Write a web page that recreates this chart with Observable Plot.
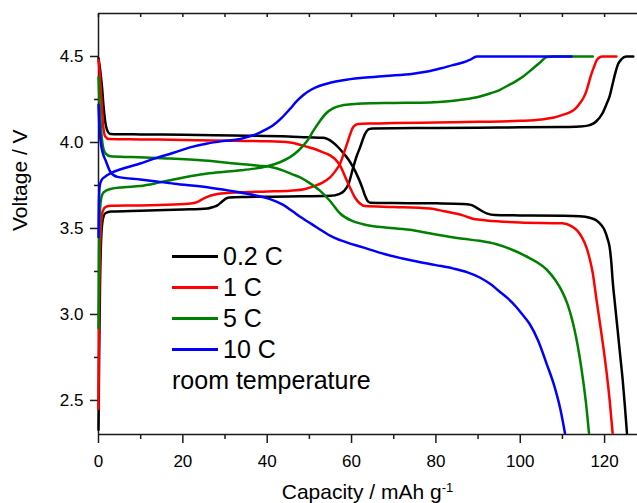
<!DOCTYPE html>
<html><head><meta charset="utf-8">
<script src="https://cdn.jsdelivr.net/npm/d3@7"></script>
<script src="https://cdn.jsdelivr.net/npm/@observablehq/plot@0.6"></script>
<style>
body{margin:0;background:#fff;}
#wrap{position:relative;width:637px;height:503px;font-family:"Liberation Sans",Arial,Helvetica,sans-serif;color:#000;overflow:hidden;}
#wrap svg{position:absolute;left:0;top:0;}
#legend{position:absolute;left:172px;top:241px;}
.row{display:flex;align-items:center;height:31px;font-size:25px;white-space:nowrap;}
.swatch{width:46px;height:3px;margin-right:5px;}
#xtitle{position:absolute;left:98px;width:539px;top:480px;text-align:center;font-size:21px;line-height:24px;white-space:nowrap;}
#xtitle sup{font-size:0.62em;line-height:0;vertical-align:0.55em;}
</style></head>
<body><div id="wrap"></div>
<script>
const rates = ["0.2 C", "1 C", "5 C", "10 C"];
const colors = ["#000000", "#ff0000", "#008000", "#0000ff"];
const note = "room temperature";

const xMajor = [0, 20, 40, 60, 80, 100, 120];
const xMinor = [10, 30, 50, 70, 90, 110];
const xTopTicks = [0, 10, 20, 30, 40, 50, 60, 70, 80, 90, 100, 110, 120];
const yMajor = [2.5, 3.0, 3.5, 4.0, 4.5];
const yMinor = [2.75, 3.25, 3.75, 4.25];
const xDomain = [0, 127.8];
const yDomain = [2.302, 4.75];

// 0.2 C
const charge02 = [[0,2.33],[0.15,2.75],[0.35,3.15],[0.6,3.42],[1.0,3.55],[1.7,3.59],[3,3.598],[10,3.603],[20,3.61],[25.8,3.616],[27.2,3.625],[28.2,3.634],[29,3.65],[29.6,3.663],[30.3,3.675],[31,3.68],[35,3.683],[45,3.686],[55,3.69],[57,3.70],[58.3,3.72],[59.3,3.76],[60.4,3.855],[61.2,3.92],[62,3.97],[63.2,4.05],[64.1,4.078],[65,4.082],[70,4.083],[80,4.084],[90,4.086],[100,4.088],[110,4.09],[114,4.093],[116,4.098],[117.3,4.11],[118.1,4.125],[119.5,4.17],[120.4,4.22],[121.2,4.27],[121.9,4.34],[122.5,4.4],[123.1,4.45],[123.7,4.475],[124.5,4.495],[125.3,4.5],[126.8,4.5]];
const discharge02 = [[0,4.49],[0.4,4.42],[0.8,4.33],[1.2,4.21],[1.6,4.12],[2.0,4.075],[2.8,4.05],[10,4.047],[20,4.045],[32,4.04],[45,4.035],[49.5,4.03],[53.3,4.027],[54.5,4.018],[55.6,4.0],[57,3.968],[58,3.94],[59.3,3.9],[60.4,3.855],[61.5,3.8],[62.5,3.74],[63.2,3.69],[63.8,3.66],[64.5,3.65],[70,3.648],[80,3.646],[86.4,3.643],[88.3,3.637],[89.7,3.62],[91,3.6],[92.2,3.586],[94,3.578],[100,3.576],[110,3.574],[114.1,3.571],[116.5,3.562],[118.1,3.547],[119.2,3.52],[120,3.49],[120.7,3.44],[121.2,3.39],[121.6,3.3],[121.9,3.2],[122.5,3.05],[123.1,2.907],[123.7,2.76],[124.3,2.616],[124.8,2.47],[125.3,2.31]];
// 1 C
const charge1 = [[0,2.45],[0.1,2.9],[0.3,3.3],[0.6,3.52],[1,3.6],[1.7,3.625],[3,3.632],[10,3.634],[18,3.64],[21.8,3.645],[23.5,3.655],[25,3.675],[26.5,3.69],[28.2,3.70],[33.6,3.71],[40,3.715],[45.4,3.72],[49,3.73],[51,3.745],[53,3.765],[54.9,3.797],[56.2,3.835],[57.3,3.878],[58.2,3.94],[58.9,3.99],[59.7,4.05],[60.4,4.09],[61.5,4.108],[65,4.111],[70,4.113],[80,4.116],[90,4.12],[100,4.126],[105,4.134],[108,4.145],[110,4.16],[111.7,4.175],[113,4.195],[114.1,4.227],[115,4.26],[115.7,4.30],[116.4,4.36],[116.9,4.40],[117.5,4.44],[118.1,4.477],[118.8,4.495],[119.5,4.5],[122.8,4.5]];
const discharge1 = [[0,4.48],[0.3,4.4],[0.7,4.25],[1.1,4.1],[1.6,4.035],[2.5,4.02],[10,4.018],[20,4.015],[32,4.01],[40,4.007],[45.4,4.0],[48,3.985],[50.9,3.965],[53,3.945],[54.9,3.925],[56.2,3.9],[57.3,3.865],[58.5,3.8],[59.6,3.74],[60.8,3.68],[62,3.645],[63.2,3.63],[70,3.625],[78.6,3.616],[82,3.6],[86.4,3.576],[89,3.555],[92,3.547],[100,3.535],[110,3.53],[112,3.515],[113.4,3.49],[114.6,3.45],[115.7,3.39],[116.5,3.32],[117.2,3.24],[118,3.1],[118.8,2.965],[119.7,2.81],[120.5,2.657],[121.2,2.5],[121.9,2.31]];
// 5 C
const charge5 = [[0,2.92],[0.1,3.3],[0.3,3.58],[0.6,3.67],[1.2,3.71],[2.8,3.73],[6,3.74],[9.9,3.747],[14,3.765],[17.8,3.785],[22,3.805],[25.8,3.82],[30,3.83],[33.6,3.838],[37,3.848],[40,3.862],[43,3.885],[45.4,3.915],[47.5,3.955],[49.5,4.01],[51,4.07],[52.5,4.125],[54,4.17],[55.6,4.198],[57.3,4.213],[60,4.222],[62.7,4.227],[70,4.23],[78.6,4.233],[83,4.24],[86.4,4.25],[90,4.265],[92.8,4.285],[95.1,4.305],[97,4.33],[99.2,4.36],[101,4.39],[103,4.43],[104.7,4.465],[106.3,4.497],[108,4.5],[117.2,4.5]];
const discharge5 = [[0,4.38],[0.3,4.2],[0.7,4.05],[1.2,3.96],[1.7,3.935],[2.8,3.92],[8,3.915],[16.3,3.907],[25,3.895],[33.6,3.875],[38,3.865],[41.4,3.855],[44,3.835],[46,3.815],[47.8,3.797],[50,3.765],[52.5,3.72],[54.9,3.66],[57.3,3.587],[60,3.545],[62.7,3.525],[68,3.505],[74.6,3.49],[80,3.465],[86.4,3.44],[90.4,3.428],[94.4,3.408],[98.2,3.375],[100.5,3.35],[102.2,3.328],[104.5,3.295],[106.3,3.26],[108.3,3.2],[110,3.13],[111.2,3.06],[112.4,2.96],[113.3,2.86],[114.1,2.75],[115,2.6],[115.7,2.46],[116.3,2.31]];
// 10 C
const charge10 = [[0,3.45],[0.1,3.65],[0.3,3.75],[0.7,3.78],[1.5,3.8],[2.8,3.82],[6,3.85],[9.9,3.878],[13,3.905],[17.8,3.94],[21.5,3.97],[25.8,3.994],[29.5,4.008],[33.6,4.02],[35.5,4.033],[37.6,4.05],[39.5,4.073],[41.4,4.10],[43.5,4.145],[45.4,4.195],[47,4.24],[48.5,4.275],[50.5,4.308],[52.5,4.33],[54.9,4.347],[58,4.362],[62.7,4.376],[68,4.387],[74.6,4.40],[78,4.413],[81,4.43],[84,4.45],[86.4,4.465],[88,4.48],[89.7,4.5],[112.2,4.5]];
const discharge10 = [[0,4.22],[0.2,4.1],[0.5,4.01],[1,3.94],[1.7,3.895],[2.8,3.83],[4.5,3.8],[9.9,3.785],[12.3,3.778],[18,3.76],[25.8,3.74],[31,3.72],[37.6,3.69],[41,3.668],[43.8,3.637],[46,3.6],[48,3.565],[51.8,3.506],[54.9,3.458],[57.3,3.432],[62.7,3.39],[68,3.35],[74.6,3.312],[80,3.287],[84,3.268],[87.5,3.245],[90.4,3.215],[93,3.175],[95,3.135],[97,3.095],[99,3.045],[100.5,3.0],[102.2,2.946],[104.2,2.85],[106.3,2.71],[108,2.59],[109.5,2.45],[110.6,2.31]];

const series = [
  {rate: rates[0], charge: charge02, discharge: discharge02},
  {rate: rates[1], charge: charge1, discharge: discharge1},
  {rate: rates[2], charge: charge5, discharge: discharge5},
  {rate: rates[3], charge: charge10, discharge: discharge10}
];
const rows = series.flatMap(s =>
  [["charge", s.charge], ["discharge", s.discharge]].flatMap(([phase, pts]) =>
    pts.map(([x, y]) => ({rate: s.rate, phase, x, y}))));

const axisColor = "#1a1a1a";
const chart = Plot.plot({
  width: 637, height: 478,
  marginLeft: 98, marginRight: 0, marginTop: 13, marginBottom: 44,
  x: {domain: xDomain},
  y: {domain: yDomain},
  color: {domain: rates, range: colors},
  style: {fontFamily: "'Liberation Sans', Arial, Helvetica, sans-serif", color: "#000", background: "transparent", overflow: "visible"},
  marks: [
    Plot.ruleX([xDomain[0]], {stroke: axisColor, strokeWidth: 1.5}),
    Plot.ruleY([yDomain[0]], {stroke: axisColor, strokeWidth: 1.5}),
    Plot.ruleY([yDomain[1]], {stroke: axisColor, strokeWidth: 1.5}),
    Plot.axisX(xMajor, {anchor: "bottom", tickSize: 9, tickPadding: 11, fontSize: 17, tickFormat: d => String(d), label: null, stroke: axisColor, strokeWidth: 1.5}),
    Plot.axisX(xMinor, {anchor: "bottom", tickSize: 5, tickFormat: () => "", label: null, stroke: axisColor, strokeWidth: 1.5}),
    Plot.axisX(xTopTicks, {anchor: "top", tickSize: 3, dy: 3, tickFormat: () => "", label: null, stroke: axisColor, strokeWidth: 1.5}),
    Plot.axisY(yMajor, {anchor: "left", tickSize: 8, tickPadding: 7, fontSize: 17, tickFormat: d3.format(".1f"), label: null, stroke: axisColor, strokeWidth: 1.5}),
    Plot.axisY(yMinor, {anchor: "left", tickSize: 4, tickFormat: () => "", label: null, stroke: axisColor, strokeWidth: 1.5}),
    Plot.text(["Voltage / V"], {frameAnchor: "left", rotate: -90, dx: -78, dy: 7, fontSize: 21}),
    Plot.line(rows, {x: "x", y: "y", z: d => d.rate + "|" + d.phase, stroke: "rate", strokeWidth: 2.5, curve: "monotone-x"})
  ]
});

const wrap = document.getElementById("wrap");
wrap.appendChild(chart);

const legend = document.createElement("div");
legend.id = "legend";
rates.forEach((r, i) => {
  const row = document.createElement("div");
  row.className = "row";
  const sw = document.createElement("span");
  sw.className = "swatch";
  sw.style.background = colors[i];
  row.appendChild(sw);
  row.appendChild(document.createTextNode(r));
  legend.appendChild(row);
});
const noteRow = document.createElement("div");
noteRow.className = "row";
noteRow.textContent = note;
legend.appendChild(noteRow);
wrap.appendChild(legend);

const xt = document.createElement("div");
xt.id = "xtitle";
xt.innerHTML = "Capacity / mAh g<sup>-1</sup>";
wrap.appendChild(xt);
</script>
</body></html>
